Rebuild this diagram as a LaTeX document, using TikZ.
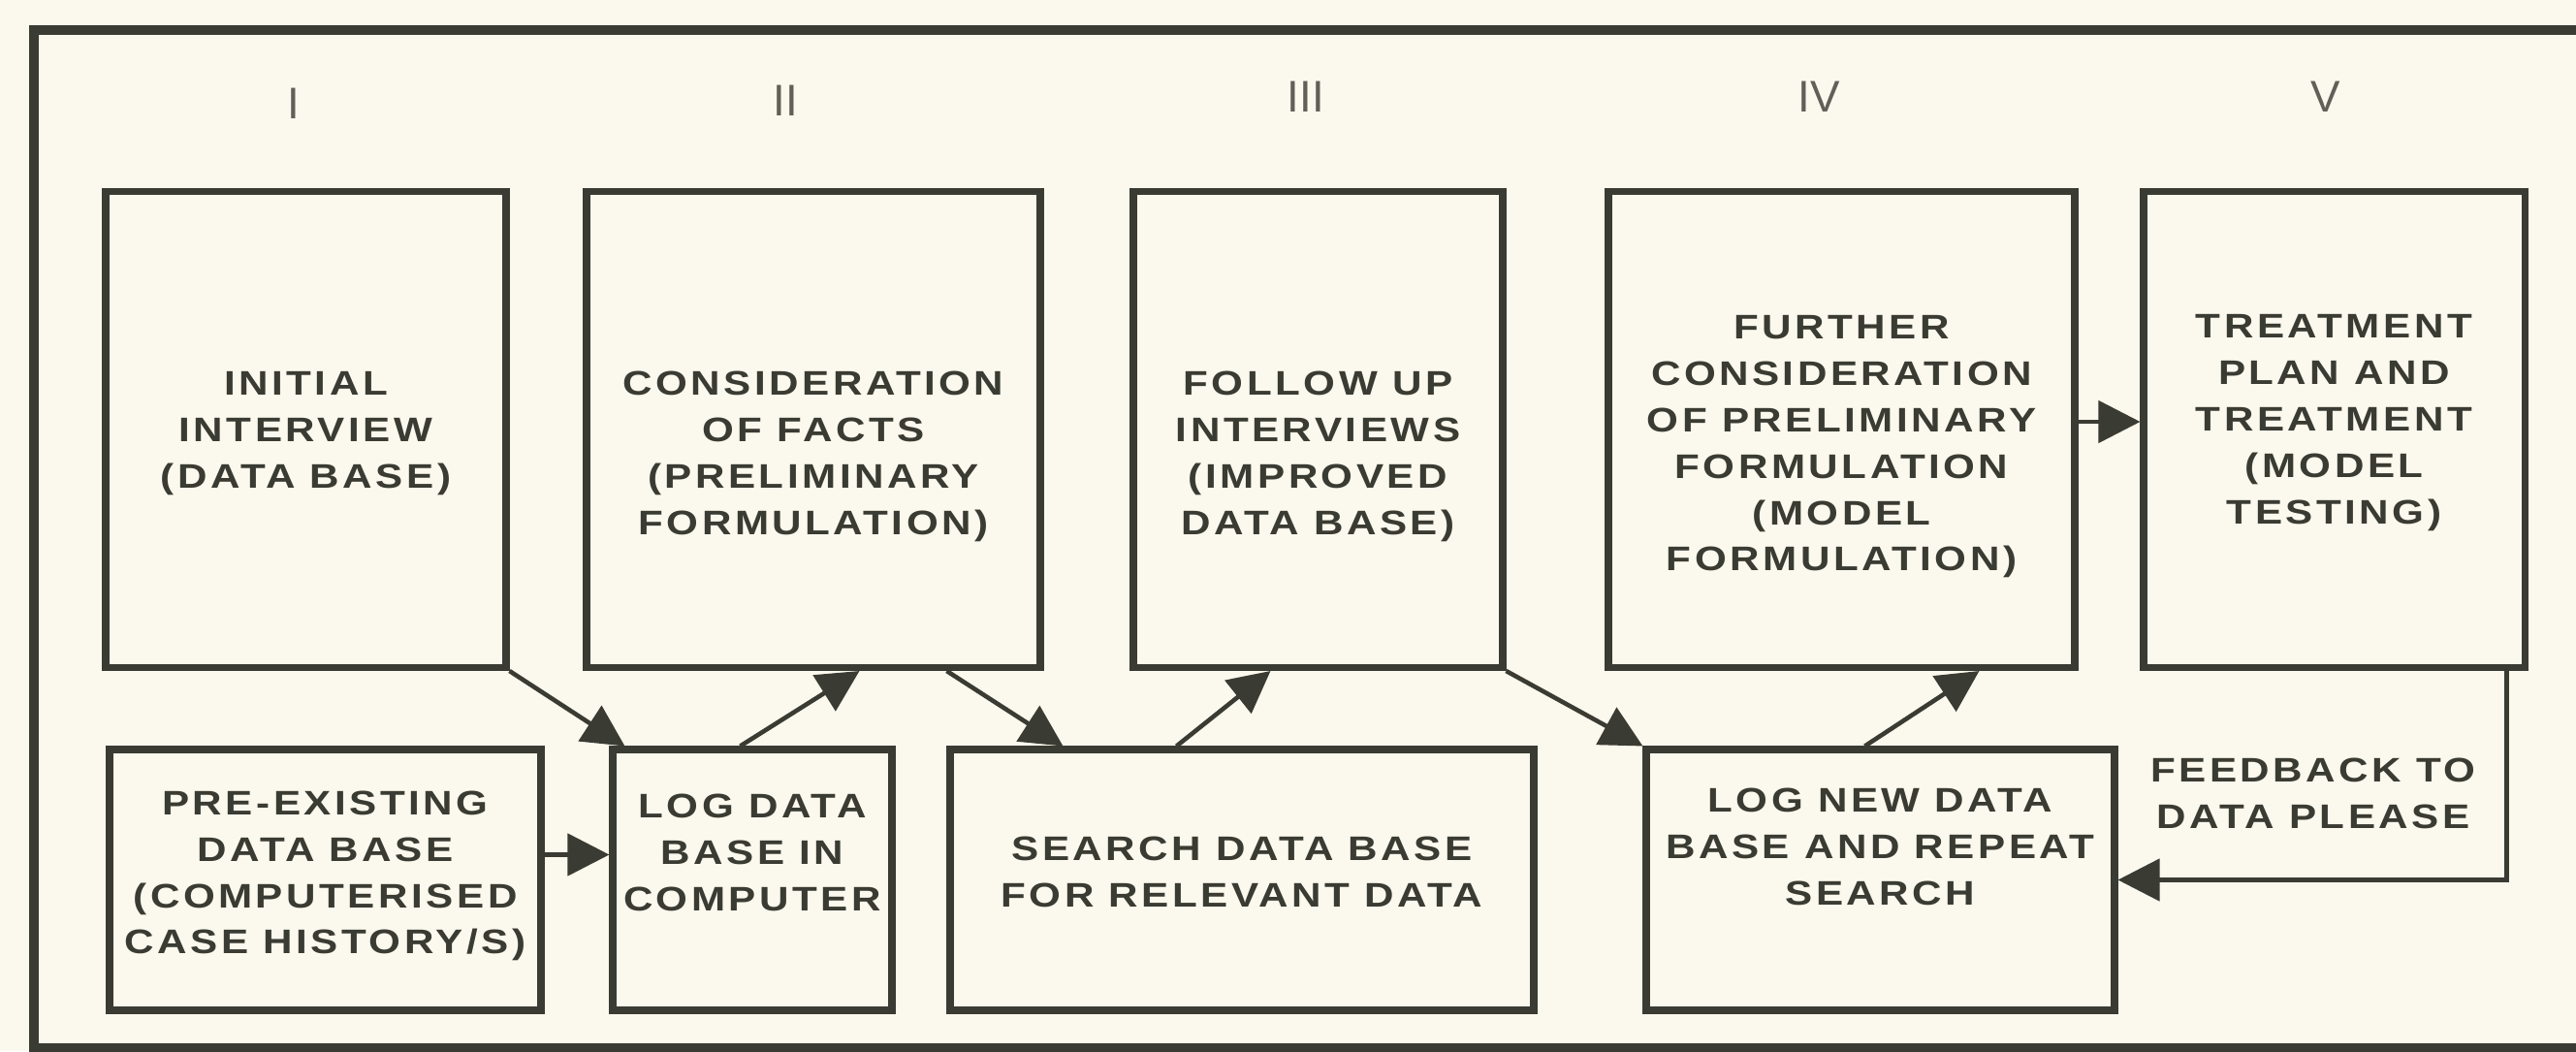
\documentclass[tikz,border=0pt]{standalone}
\usepackage{fontspec}
\setmainfont{Liberation Sans}
\newfontfamily\stagefont{Liberation Sans}[FakeStretch=1.2,LetterSpace=10]
\usetikzlibrary{arrows.meta}

\definecolor{paper}{RGB}{251,248,237}
\definecolor{ink}{RGB}{58,59,50}
\definecolor{pencil}{RGB}{96,96,88}

\tikzset{
    stage/.style={draw=ink, line width=2pt, rectangle, inner sep=0pt},
    tag/.style={align=center, text=ink, font=\stagefont\bfseries\fontsize{10}{13.6}\selectfont},
    flow/.style={draw=ink, line width=1.3pt, -{Triangle[length=0.43cm, width=0.43cm]}},
    numeral/.style={text=pencil, font=\fontsize{13}{15}\selectfont},
}

\begin{document}
\begin{tikzpicture}

    % Heights of the two rows of boxes.
    \pgfmathsetmacro{\topRow}{4.91}
    \pgfmathsetmacro{\lowRow}{2.69}

    %% ------
    %% Boxes sit on fixed coordinates,
    %% the texts are moved inside them with [yshift]
    %% ----

    \useasboundingbox[fill=paper] (0,0) rectangle (26.57,10.84);

    % outer frame, its right side runs off the page
    \draw[ink, line width=2.8pt] (26.8,10.53) -| (0.35,0.03) -- (26.8,0.03);

    % I
    \node[numeral] (numI) at (3.03,9.77) {I};
    \node[stage, minimum width=4.13cm, minimum height=\topRow cm, label={[tag, yshift=-0.04cm] center:INITIAL\\INTERVIEW\\(DATA BASE)}] (interview) at (3.155,6.41) {};
    \node[stage, minimum width=4.45cm, minimum height=\lowRow cm, label={[tag, yshift=0.04cm] center:PRE-EXISTING\\DATA BASE\\(COMPUTERISED\\CASE HISTORY/S)}] (preexist) at (3.355,1.765) {};

    % II
    \node[numeral] (numII) at (8.10,9.80) {II};
    \node[stage, minimum width=4.68cm, minimum height=\topRow cm, label={[tag, yshift=-0.28cm] center:CONSIDERATION\\OF FACTS\\(PRELIMINARY\\FORMULATION)}] (consider) at (8.39,6.41) {};
    \node[stage, minimum width=2.88cm, minimum height=\lowRow cm, label={[tag, yshift=0.28cm] center:LOG DATA\\BASE IN\\COMPUTER}] (logdata) at (7.76,1.765) {};
    \draw[flow] (interview.south east) -- ([xshift=0.16cm]logdata.north west);
    \draw[flow] ([yshift=0.26cm]preexist.east) -- ([yshift=0.26cm]logdata.west);
    \draw[flow] ([xshift=1.35cm]logdata.north west) -- ([xshift=2.85cm]consider.south west);

    % III
    \node[numeral] (numIII) at (13.47,9.84) {III};
    \node[stage, minimum width=3.81cm, minimum height=\topRow cm, label={[tag, yshift=-0.28cm] center:FOLLOW UP\\INTERVIEWS\\(IMPROVED\\DATA BASE)}] (followup) at (13.595,6.41) {};
    \node[stage, minimum width=6.02cm, minimum height=\lowRow cm, label={[tag, yshift=0.08cm] center:SEARCH DATA BASE\\FOR RELEVANT DATA}] (search) at (12.81,1.765) {};
    \draw[flow] ([xshift=3.75cm]consider.south west) -- ([xshift=1.2cm]search.north west);
    \draw[flow] ([xshift=2.37cm]search.north west) -- ([xshift=1.45cm]followup.south west);

    % IV
    \node[numeral] (numIV) at (18.76,9.84) {IV};
    \node[stage, minimum width=4.81cm, minimum height=\topRow cm, label={[tag, yshift=-0.18cm] center:FURTHER\\CONSIDERATION\\OF PRELIMINARY\\FORMULATION\\(MODEL\\FORMULATION)}] (further) at (18.995,6.41) {};
    \node[stage, minimum width=4.83cm, minimum height=\lowRow cm, label={[tag, yshift=0.34cm] center:LOG NEW DATA\\BASE AND REPEAT\\SEARCH}] (lognew) at (19.395,1.765) {};
    \draw[flow] (followup.south east) -- (lognew.north west);
    \draw[flow] ([xshift=2.29cm]lognew.north west) -- ([xshift=3.86cm]further.south west);

    % V
    \node[numeral] (numV) at (23.99,9.84) {V};
    \node[stage, minimum width=3.93cm, minimum height=\topRow cm, label={[tag, yshift=0.07cm] center:TREATMENT\\PLAN AND\\TREATMENT\\(MODEL\\TESTING)}] (treatment) at (24.075,6.41) {};
    \draw[flow] ([yshift=0.08cm]further.east) -- ([yshift=0.08cm]treatment.west);

    % feedback loop
    \node[tag] (feedback) at (23.86,2.66) {FEEDBACK TO\\DATA PLEASE};
    \draw[flow] ([xshift=-0.22cm]treatment.south east) |- (lognew.east);

\end{tikzpicture}
\end{document}
